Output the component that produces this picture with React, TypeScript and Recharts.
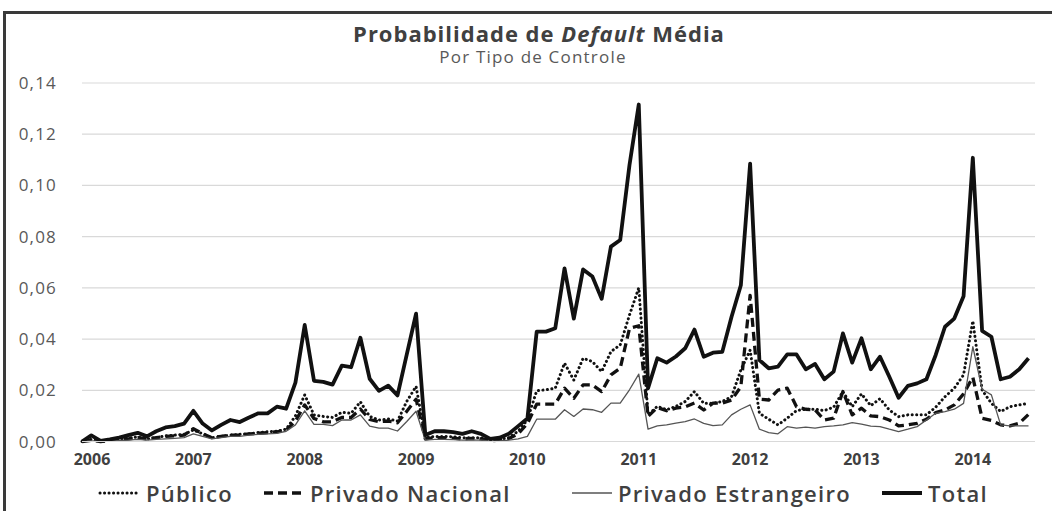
import { LineChart, Line, XAxis, YAxis, CartesianGrid } from 'recharts'

// monthly series, Jan 2006 .. Jul 2014 (103 months)
const years = ['2006', '2007', '2008', '2009', '2010', '2011', '2012', '2013', '2014']
const yTicks = [0, 0.02, 0.04, 0.06, 0.08, 0.1, 0.12, 0.14]

const total = [
  0, 0.0024, 0.0002, 0.0008, 0.0015, 0.0025, 0.0034, 0.002, 0.004, 0.0055, 0.006, 0.007,
  0.012, 0.007, 0.0043, 0.0065, 0.0084, 0.0076, 0.0094, 0.011, 0.011, 0.0136, 0.0128, 0.023,
  0.0455, 0.0237, 0.0233, 0.0222, 0.0296, 0.029, 0.0405, 0.0245, 0.0198, 0.0218, 0.018, 0.034,
  0.0499, 0.0025, 0.004, 0.004, 0.0037, 0.003, 0.004, 0.003, 0.001, 0.0015, 0.003, 0.006,
  0.009, 0.0429, 0.0429, 0.0442, 0.0676, 0.048, 0.0672, 0.0644, 0.0557, 0.0761, 0.0787, 0.108,
  0.1316, 0.0208, 0.0325, 0.0308, 0.0332, 0.0364, 0.0437, 0.0331, 0.0347, 0.035, 0.0487, 0.061,
  0.1085, 0.0318, 0.0286, 0.0292, 0.034, 0.034, 0.0282, 0.0303, 0.0243, 0.0273, 0.0422, 0.0308,
  0.0403, 0.0282, 0.0331, 0.0253, 0.0171, 0.0217, 0.0227, 0.0243, 0.0338, 0.0448, 0.048, 0.0567,
  0.1108, 0.0432, 0.0409, 0.0243, 0.0253, 0.0282, 0.0325,
]

const publico = [
  0, 0.0008, 0, 0.0005, 0.001, 0.0013, 0.0018, 0.001, 0.0015, 0.0022, 0.0025, 0.0028,
  0.0045, 0.003, 0.0015, 0.002, 0.0025, 0.0028, 0.003, 0.0035, 0.0038, 0.004, 0.0048, 0.01,
  0.0182, 0.0104, 0.0098, 0.0094, 0.0114, 0.011, 0.0155, 0.0098, 0.0084, 0.0088, 0.008, 0.0157,
  0.0215, 0.0015, 0.002, 0.002, 0.0018, 0.0015, 0.0015, 0.0015, 0.0005, 0.0008, 0.0015, 0.004,
  0.0085, 0.0198, 0.0202, 0.0208, 0.0306, 0.024, 0.0325, 0.0312, 0.0273, 0.0351, 0.0377, 0.0494,
  0.06, 0.0104, 0.0137, 0.0124, 0.0137, 0.0156, 0.0195, 0.0149, 0.0149, 0.0156, 0.0175, 0.0279,
  0.0357, 0.011, 0.0087, 0.0065, 0.0091, 0.0121, 0.0126, 0.0126, 0.0121, 0.0134, 0.0195, 0.0136,
  0.0186, 0.014, 0.0167, 0.0123, 0.0097, 0.0104, 0.0104, 0.0104, 0.0134, 0.0175, 0.0208, 0.026,
  0.0471, 0.0201, 0.0149, 0.0117, 0.0136, 0.0143, 0.0149,
]

const nacional = [
  0, 0.0005, 0, 0.0004, 0.0008, 0.001, 0.0015, 0.001, 0.0015, 0.002, 0.0022, 0.0025,
  0.005, 0.003, 0.0015, 0.002, 0.0025, 0.0025, 0.003, 0.0032, 0.0035, 0.0038, 0.0045, 0.008,
  0.0143, 0.009, 0.0077, 0.0077, 0.0094, 0.0094, 0.0127, 0.0086, 0.0077, 0.008, 0.0073, 0.0118,
  0.0165, 0.001, 0.0015, 0.0015, 0.0013, 0.001, 0.0012, 0.001, 0.0003, 0.0005, 0.0012, 0.003,
  0.007, 0.0146, 0.0146, 0.0146, 0.0208, 0.0169, 0.0221, 0.0221, 0.0195, 0.026, 0.0286, 0.0442,
  0.0452, 0.0098, 0.0133, 0.012, 0.013, 0.0135, 0.015, 0.0123, 0.015, 0.015, 0.0162, 0.0214,
  0.0571, 0.0165, 0.0162, 0.0201, 0.0208, 0.0136, 0.0126, 0.0123, 0.0084, 0.0091, 0.0195, 0.0104,
  0.013, 0.01, 0.0097, 0.0084, 0.0061, 0.0065, 0.0071, 0.0087, 0.0113, 0.0123, 0.0143, 0.0186,
  0.0251, 0.0091, 0.0082, 0.0065, 0.0061, 0.0071, 0.0106,
]

const estrangeiro = [
  0, 0.0002, 0, 0.0002, 0.0004, 0.0005, 0.0008, 0.0005, 0.0008, 0.001, 0.0012, 0.0015,
  0.003, 0.002, 0.001, 0.0015, 0.002, 0.002, 0.0025, 0.0028, 0.003, 0.0032, 0.004, 0.0065,
  0.012, 0.0067, 0.0067, 0.0062, 0.0084, 0.0084, 0.0104, 0.006, 0.0052, 0.0052, 0.0041, 0.0078,
  0.0118, 0.0005, 0.0008, 0.0008, 0.0007, 0.0005, 0.0006, 0.0005, 0.0001, 0.0002, 0.0005, 0.001,
  0.002, 0.0087, 0.0087, 0.0087, 0.0124, 0.0098, 0.0127, 0.0124, 0.0114, 0.015, 0.015, 0.0202,
  0.0263, 0.0048, 0.0061, 0.0065, 0.0072, 0.0078, 0.0088, 0.0071, 0.0062, 0.0065, 0.0104, 0.0126,
  0.0143, 0.0048, 0.0035, 0.003, 0.0058, 0.0052, 0.0056, 0.0052, 0.0058, 0.0061, 0.0065, 0.0074,
  0.0068, 0.006, 0.0058, 0.0048, 0.0039, 0.0048, 0.0058, 0.0084, 0.011, 0.0117, 0.0126, 0.0149,
  0.037, 0.0204, 0.0182, 0.0065, 0.0061, 0.0061, 0.0061,
]

const series = [
  { key: 'publico', name: 'Público', stroke: '#111', width: 3, dash: '0.1 4.4', cap: 'round' as const, legendX: 98 },
  { key: 'nacional', name: 'Privado Nacional', stroke: '#111', width: 3.3, dash: '9 5', cap: 'butt' as const, legendX: 262 },
  { key: 'estrangeiro', name: 'Privado Estrangeiro', stroke: '#555', width: 1.3, dash: undefined, cap: 'butt' as const, legendX: 570 },
  { key: 'total', name: 'Total', stroke: '#111', width: 3.8, dash: undefined, cap: 'butt' as const, legendX: 880 },
]

const rows = total.map((v, i) => ({
  i,
  total: v,
  publico: publico[i],
  nacional: nacional[i],
  estrangeiro: estrangeiro[i],
}))

const yearTicks = years.map((_, k) => k * 12)
const font = '"Open Sans", sans-serif'

// first year label sits a little inside the plot, like the original
function YearTick(props: any) {
  const { x, y, payload, index } = props
  return (
    <text
      x={x + (index === 0 ? 10 : 0)}
      y={y}
      dy="0.71em"
      textAnchor="middle"
      fontSize={16}
      fontWeight={700}
      fill="#404040"
      fontFamily={font}
    >
      {years[Math.round(payload.value / 12)]}
    </text>
  )
}

export default function App() {
  return (
    <div style={{ position: 'fixed', left: 0, top: 0, width: 1052, height: 511, background: '#fff', overflow: 'hidden', fontFamily: font }}>
      <div style={{ position: 'absolute', left: 3, top: 11, width: 1070, height: 540, border: '3px solid #3a3a3a' }} />

      <div style={{ position: 'absolute', left: 0, top: 18, width: 1078, textAlign: 'center', fontSize: 22, fontWeight: 700, color: '#404040', lineHeight: '30px', letterSpacing: 1 }}>
        Probabilidade de <i>Default</i> Média
      </div>
      <div style={{ position: 'absolute', left: 0, top: 46, width: 1066, textAlign: 'center', fontSize: 17, color: '#595959', lineHeight: '22px', letterSpacing: 1.2 }}>
        Por Tipo de Controle
      </div>

      <div style={{ position: 'absolute', left: 0, top: 0 }}>
        <LineChart width={1052} height={511} data={rows} margin={{ top: 83, right: 17, bottom: 39.5, left: 22 }}>
          <CartesianGrid vertical={false} stroke="#d9d9d9" strokeWidth={1.2} />
          <XAxis
            type="number"
            dataKey="i"
            domain={[0, 102.7]}
            ticks={yearTicks}
            height={30}
            tickLine={false}
            tickSize={0}
            tickMargin={12}
            axisLine={{ stroke: '#d9d9d9', strokeWidth: 1.2 }}
            tick={<YearTick />}
          />
          <YAxis
            width={60}
            domain={[0, 0.14]}
            ticks={yTicks}
            tickFormatter={(v: number) => v.toFixed(2).replace('.', ',')}
            axisLine={false}
            tickLine={false}
            tickSize={0}
            tickMargin={25}
            tick={{ fontSize: 17, fill: '#595959', fontFamily: font, letterSpacing: 1.2 }}
          />
          {series.map((s) => (
            <Line
              key={s.key}
              type="linear"
              dataKey={s.key}
              name={s.name}
              stroke={s.stroke}
              strokeWidth={s.width}
              strokeDasharray={s.dash}
              strokeLinecap={s.cap}
              strokeLinejoin="round"
              dot={false}
              isAnimationActive={false}
            />
          ))}
        </LineChart>
      </div>

      {series.map((s) => (
        <div
          key={s.key}
          style={{ position: 'absolute', left: s.legendX, top: 477, display: 'flex', alignItems: 'center', gap: 4, fontSize: 22, fontWeight: 600, color: '#404040', lineHeight: '32px', letterSpacing: 1.3, whiteSpace: 'nowrap' }}
        >
          <svg width={44} height={10}>
            <line x1={2} y1={5} x2={42} y2={5} stroke={s.stroke} strokeWidth={s.width} strokeDasharray={s.dash} strokeLinecap={s.cap} />
          </svg>
          <span>{s.name}</span>
        </div>
      ))}
    </div>
  )
}
